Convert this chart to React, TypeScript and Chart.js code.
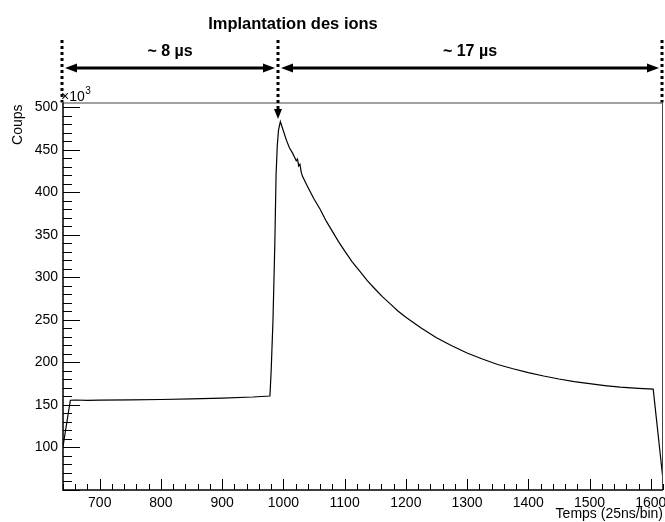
import React, { useEffect, useRef } from 'react';
import { Chart, registerables } from 'chart.js';

Chart.register(...registerables);

// ---- data (counts in units of 10^3) ----
const binX = [640, 652, 660, 680, 700, 750, 800, 850, 900, 950, 978, 980, 983, 986, 988, 990, 992, 995, 1000, 1005, 1010, 1015, 1019, 1021, 1023, 1025, 1027, 1029, 1031, 1040, 1050, 1060, 1070, 1080, 1090, 1100, 1112, 1125, 1137, 1150, 1162, 1175, 1187, 1200, 1225, 1250, 1275, 1300, 1325, 1350, 1375, 1400, 1425, 1450, 1475, 1500, 1525, 1550, 1580, 1604, 1620];
const counts = [101, 155.5, 155.8, 155.4, 155.7, 155.9, 156.4, 157.2, 158.1, 159.3, 160.5, 190, 250, 340, 420, 455, 473, 483, 472, 461, 452, 446, 440, 437, 439, 431, 433, 424, 419, 406, 392, 380, 366, 354, 342, 331, 318.5, 307, 296, 286, 277, 268.5, 260.5, 253, 240.5, 229, 219.5, 211, 204, 197.5, 192.5, 188, 184, 180.5, 177.5, 175, 172.8, 171, 169.5, 168.5, 62];

const xTicks = [700, 800, 900, 1000, 1100, 1200, 1300, 1400, 1500, 1600];
const yTicks = [100, 150, 200, 250, 300, 350, 400, 450, 500];
const xMin = 640;
const xMax = 1620;
const yMin = 50;
const yMax = 505.5;
const xMinorStep = 20;
const yMinorStep = 10;

const markerBins = [640, 992, 1620];
const spanLabels = ['~ 8 µs', '~ 17 µs'];
const titleText = 'Implantation des ions';
const xTitle = 'Temps (25ns/bin)';
const yTitle = 'Coups';

const FONT = "'Liberation Sans', Arial, Helvetica, sans-serif";

function arrowHead(ctx: CanvasRenderingContext2D, tx: number, ty: number, dx: number, dy: number, len: number, half: number) {
  const bx = tx - dx * len;
  const by = ty - dy * len;
  const px = -dy;
  const py = dx;
  ctx.beginPath();
  ctx.moveTo(tx, ty);
  ctx.lineTo(bx + px * half, by + py * half);
  ctx.lineTo(bx - px * half, by - py * half);
  ctx.closePath();
  ctx.fill();
}

const decorPlugin = {
  id: 'rootDecor',
  afterDraw(chart: any) {
    const { ctx, chartArea: a, scales } = chart;
    const xs = scales.x;
    const ys = scales.y;
    ctx.save();

    // frame: top/right grey
    ctx.strokeStyle = '#444';
    ctx.lineWidth = 1;
    ctx.beginPath();
    ctx.moveTo(a.left, a.top + 0.5);
    ctx.lineTo(a.right - 0.5, a.top + 0.5);
    ctx.lineTo(a.right - 0.5, a.bottom);
    ctx.stroke();

    // axes
    ctx.strokeStyle = '#000';
    ctx.lineWidth = 1.5;
    ctx.beginPath();
    ctx.moveTo(a.left, a.top);
    ctx.lineTo(a.left, a.bottom);
    ctx.lineTo(a.right, a.bottom);
    ctx.stroke();

    // x ticks (inward)
    ctx.lineWidth = 1;
    ctx.beginPath();
    for (let v = xMin; v <= xMax + 0.001; v += xMinorStep) {
      const px = Math.round(xs.getPixelForValue(v)) + 0.5;
      const major = v % 100 === 0;
      ctx.moveTo(px, a.bottom);
      ctx.lineTo(px, a.bottom - (major ? 11 : 6));
    }
    ctx.stroke();

    // y ticks (inward)
    ctx.beginPath();
    for (let v = yMin; v <= 500 + 0.001; v += yMinorStep) {
      const py = Math.round(ys.getPixelForValue(v)) + 0.5;
      const major = v % 50 === 0;
      ctx.moveTo(a.left, py);
      ctx.lineTo(a.left + (major ? 17 : 9), py);
    }
    ctx.stroke();

    // x10^3
    ctx.fillStyle = '#000';
    ctx.textBaseline = 'alphabetic';
    ctx.textAlign = 'left';
    ctx.font = `14px ${FONT}`;
    ctx.fillText('×10', a.left - 2, a.top - 2);
    const w10 = ctx.measureText('×10').width;
    ctx.font = `10px ${FONT}`;
    ctx.fillText('3', a.left - 2 + w10 + 0.5, a.top - 9);

    // y title
    ctx.save();
    ctx.font = `14px ${FONT}`;
    ctx.translate(18, a.top + 2);
    ctx.rotate(-Math.PI / 2);
    ctx.textAlign = 'right';
    ctx.textBaseline = 'middle';
    ctx.fillText(yTitle, 0, 0);
    ctx.restore();

    // x title
    ctx.font = `14px ${FONT}`;
    ctx.textAlign = 'right';
    ctx.textBaseline = 'middle';
    ctx.fillText(xTitle, a.right, 514);

    // title
    ctx.font = `bold 16.5px ${FONT}`;
    ctx.textAlign = 'center';
    ctx.fillText(titleText, 293, 24);

    // marker dotted lines
    const mx = markerBins.map((b) => Math.round(xs.getPixelForValue(b)) - 1);
    ctx.lineWidth = 3;
    ctx.setLineDash([3, 3]);
    mx.forEach((x, i) => {
      ctx.beginPath();
      ctx.moveTo(x, 40);
      ctx.lineTo(x, i === 1 ? 111 : a.top);
      ctx.stroke();
    });
    ctx.setLineDash([]);
    arrowHead(ctx, mx[1], 119, 0, 1, 10, 4);

    // span arrows
    const ay = 68;
    ctx.lineWidth = 3;
    for (let i = 0; i < 2; i++) {
      const x0 = mx[i] + 3;
      const x1 = mx[i + 1] - 3;
      ctx.beginPath();
      ctx.moveTo(x0 + 8, ay);
      ctx.lineTo(x1 - 8, ay);
      ctx.stroke();
      arrowHead(ctx, x0, ay, -1, 0, 12, 4.5);
      arrowHead(ctx, x1, ay, 1, 0, 12, 4.5);
      ctx.font = `bold 16px ${FONT}`;
      ctx.textAlign = 'center';
      ctx.textBaseline = 'middle';
      ctx.fillText(spanLabels[i], (mx[i] + mx[i + 1]) / 2, 52);
    }

    ctx.restore();
  },
};

export default function App() {
  const ref = useRef<HTMLCanvasElement | null>(null);
  useEffect(() => {
    if (!ref.current) return;
    const chart = new Chart(ref.current, {
      type: 'line',
      data: {
        datasets: [
          {
            data: binX.map((x, i) => ({ x, y: counts[i] })),
            borderColor: '#000',
            borderWidth: 1.2,
            pointRadius: 0,
            tension: 0,
            fill: false,
          },
        ],
      },
      options: {
        animation: false,
        responsive: false,
        maintainAspectRatio: false,
        devicePixelRatio: 1,
        layout: { padding: { top: 102.5, right: 2, left: 0, bottom: 0 } },
        plugins: { legend: { display: false }, tooltip: { enabled: false }, title: { display: false } },
        scales: {
          x: {
            type: 'linear',
            min: xMin,
            max: xMax,
            grid: { display: false, drawTicks: false },
            border: { display: false },
            ticks: {
              autoSkip: false,
              maxRotation: 0,
              minRotation: 0,
              padding: 5,
              color: '#000',
              font: { family: FONT, size: 14 },
              callback: (v: any) => String(v),
            },
            afterBuildTicks: (s: any) => {
              s.ticks = xTicks.map((v) => ({ value: v }));
            },
            afterFit: (s: any) => {
              s.height = 32;
              s.paddingLeft = 0;
              s.paddingRight = 0;
            },
          },
          y: {
            type: 'linear',
            min: yMin,
            max: yMax,
            grid: { display: false, drawTicks: false },
            border: { display: false },
            ticks: {
              padding: 5,
              color: '#000',
              font: { family: FONT, size: 14 },
              callback: (v: any) => String(v),
            },
            afterBuildTicks: (s: any) => {
              s.ticks = yTicks.map((v) => ({ value: v }));
            },
            afterFit: (s: any) => {
              s.width = 63;
              s.paddingTop = 0;
              s.paddingBottom = 0;
            },
          },
        },
      },
      plugins: [decorPlugin],
    } as any);
    return () => chart.destroy();
  }, []);
  return (
    <div style={{ position: 'absolute', left: 0, top: 0, width: 665, height: 522, background: '#fff' }}>
      <canvas ref={ref} width={665} height={522} style={{ width: 665, height: 522 }} />
    </div>
  );
}
